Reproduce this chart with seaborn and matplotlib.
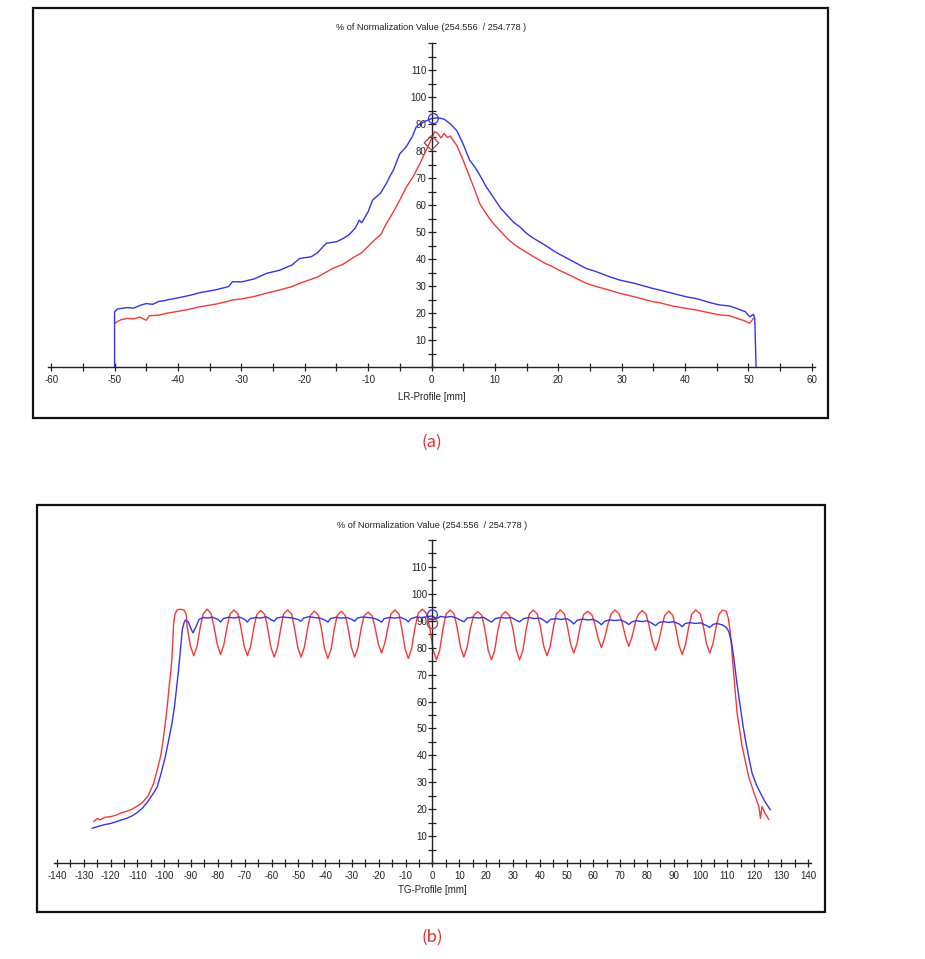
import matplotlib
matplotlib.use("Agg")
import matplotlib.pyplot as plt
import seaborn as sns
import pandas as pd
from matplotlib.patches import Rectangle
from matplotlib.ticker import MultipleLocator

# ---------------- data: panel (a) LR-profile ----------------
lr_blue_x = [-50, -50, -49.5, -48, -47, -46, -45, -44, -43, -42, -41.8, -40, -38, -36.6, -34, -32, -31.4,
             -30, -28, -26, -24, -22, -20.8, -19, -18, -16.6, -15, -14, -13, -12, -11.4, -11, -10, -9.3,
             -8, -7, -6.6, -6, -5, -4, -3, -2.4, -2, -1, 0, 1, 2, 3, 3.4, 4, 5, 6, 7, 8, 8.6, 9, 10, 11,
             11.2, 12, 13, 13.9, 15, 16, 18, 19.1, 20, 22, 24.4, 26, 28, 29.7, 32, 34.9, 36, 38, 40.2,
             42, 44, 45.4, 47, 48, 49.5, 50.2, 50.8, 51, 51.2]
lr_blue_y = [0, 20.5, 21.5, 22.0, 21.8, 22.8, 23.5, 23.2, 24.3, 24.6, 24.8, 25.6, 26.6, 27.5, 28.6, 29.8, 31.6,
             31.5, 32.6, 34.7, 35.8, 37.8, 40.2, 40.8, 42.3, 45.8, 46.4, 47.5, 49.0, 51.5, 54.4, 53.4, 57.5, 61.8,
             64.5, 68.5, 70.5, 73.0, 79.0, 81.5, 85.5, 89.0, 89.8, 91.0, 92.0, 92.3, 91.8, 90.0, 89.0, 87.5, 82.5,
             76.7, 73.5, 69.5, 66.8, 65.5, 62.0, 58.5, 58.1, 56.0, 53.5, 52.0, 49.5, 47.8, 45.0, 43.3, 42.0, 39.5,
             36.5, 35.3, 33.5, 32.2, 31.0, 29.1, 28.5, 27.3, 26.0, 25.2, 23.8, 23.0, 22.6, 21.8, 20.5, 18.6, 19.5,
             18.0, 0]

lr_red_x = [-50, -49, -48, -47, -46, -45, -44.5, -43, -41.8, -40, -38, -36.6, -34, -32, -31.4, -30, -28,
            -26.1, -24, -22, -20.8, -18, -15.6, -14, -13, -12, -11, -10.3, -9, -8, -7.1, -6, -5, -4, -2.9,
            -2, -1.1, 0, 0.5, 1, 1.5, 2, 2.5, 3, 3.4, 4, 5, 6, 7, 7.6, 8, 9, 10, 11.2, 12, 13, 13.9, 16,
            18, 19.1, 20, 22, 24.4, 26, 28, 29.7, 32, 34.9, 36, 38, 40.2, 42, 44, 45.4, 47, 48, 49.5, 50.2,
            50.8]
lr_red_y = [16.2, 17.5, 18.0, 17.8, 18.5, 17.3, 19.0, 19.2, 19.9, 20.6, 21.5, 22.3, 23.3, 24.4, 24.8, 25.2, 26.1,
            27.3, 28.5, 29.8, 31.0, 33.3, 36.5, 38.0, 39.5, 41.0, 42.3, 44.0, 47.0, 49.0, 53.2, 57.5, 61.8, 66.5,
            70.5, 74.5, 79.0, 84.5, 87.2, 86.5, 84.8, 86.5, 85.0, 85.5, 84.0, 82.0, 76.5, 70.5, 64.5, 60.6, 59.0,
            55.5, 52.5, 49.5, 47.5, 45.5, 44.0, 41.0, 38.3, 37.2, 36.0, 33.8, 31.0, 29.8, 28.5, 27.3, 26.0, 24.2,
            23.8, 22.6, 21.7, 21.0, 20.0, 19.3, 19.0, 18.2, 17.0, 16.2, 18.0]

# ---------------- data: panel (b) TG-profile ----------------
tg_red_x = [-126.3, -125, -124, -122, -120, -118, -116, -114, -112, -110, -108, -106, -104, -102.5, -101.4,
            -100.5, -99.6, -98.9, -98.3, -97.6, -97.1, -96.8, -96.5, -96, -95.2, -94, -92.7, -91.8,
            -91.5, -90.2, -89, -87.8, -86.5, -85.5, -84,
            -82.5, -81.5, -80.2, -79, -77.8, -76.5, -75.5, -74,
            -72.5, -71.5, -70.2, -69, -67.8, -66.5, -65.5, -64,
            -62.5, -61.5, -60.2, -59, -57.8, -56.5, -55.5, -54,
            -52.5, -51.5, -50.2, -49, -47.8, -46.5, -45.5, -44,
            -42.5, -41.5, -40.2, -39, -37.8, -36.5, -35.5, -34,
            -32.5, -31.5, -30.2, -29, -27.8, -26.5, -25.5, -24,
            -22.5, -21.5, -20.2, -19, -17.8, -16.5, -15.5, -14,
            -12.5, -11.5, -10.2, -9, -7.8, -6.5, -5.3, -3.8,
            -2.3, -1, 0.3, 1.5, 2.7, 4, 5.1, 6.6,
            8.1, 9.2, 10.5, 11.7, 12.9, 14.2, 15.4, 16.9,
            18.4, 19.5, 20.8, 22, 23.2, 24.5, 25.7, 27.2,
            28.7, 30, 31.3, 32.5, 33.7, 35, 36.1, 37.6,
            39.1, 40.2, 41.5, 42.7, 43.9, 45.2, 46.2, 47.7,
            49.2, 50.2, 51.5, 52.7, 53.9, 55.2, 56.4, 57.9,
            59.4, 60.5, 61.8, 63, 64.2, 65.5, 66.6, 68.1,
            69.6, 70.7, 72, 73.2, 74.4, 75.7, 76.7, 78.2,
            79.7, 80.7, 82, 83.2, 84.4, 85.7, 86.6, 88.1,
            89.6, 90.6, 91.9, 93.1, 94.3, 95.6, 96.7, 98.2,
            99.9, 100.9, 102.2, 103.4, 104.6, 105.9, 106.9, 108.2,
            109.5, 110.3, 111.1, 112.3, 113.6, 115.5, 117.9, 120.4, 121.7, 122.3, 122.9, 124, 125.4]
tg_red_y = [15.4, 16.5, 16.0, 17.0, 17.2, 17.8, 18.6, 19.2, 20.0, 21.2, 22.6, 25.0, 29.5, 35.0, 39.5,
            45.0, 52.0, 58.0, 64.3, 71.0, 76.7, 83.0, 89.0, 92.5, 94.0, 94.3, 94.0, 92.5,
            88.0, 80.5, 77.0, 80.5, 88.0, 92.5, 94.3,
            92.5, 88.0, 81.0, 77.5, 81.0, 88.0, 92.5, 94.0,
            92.5, 88.0, 80.5, 77.0, 80.5, 88.0, 92.3, 93.8,
            92.3, 87.5, 80.0, 76.5, 80.0, 87.5, 92.5, 94.0,
            92.5, 87.5, 80.0, 76.5, 80.0, 87.5, 92.0, 93.6,
            92.0, 87.5, 79.5, 76.0, 79.5, 87.5, 92.0, 93.5,
            92.0, 87.5, 80.0, 76.5, 80.0, 87.5, 91.8, 93.2,
            91.8, 88.0, 81.5, 78.0, 81.5, 88.0, 92.5, 94.0,
            92.5, 87.5, 79.5, 76.0, 79.5, 87.5, 92.8, 94.3,
            92.8, 87.5, 79.0, 75.5, 79.0, 87.5, 92.5, 94.0,
            92.5, 87.5, 80.0, 76.5, 80.0, 87.5, 92.0, 93.4,
            92.0, 87.0, 79.0, 75.5, 79.0, 87.0, 92.0, 93.4,
            92.0, 87.0, 79.0, 75.5, 79.0, 87.0, 92.5, 94.0,
            92.5, 88.0, 80.5, 77.0, 80.5, 88.0, 92.5, 94.0,
            92.5, 88.5, 81.5, 78.0, 81.5, 88.5, 92.3, 93.5,
            92.3, 89.0, 83.5, 80.0, 83.5, 89.0, 92.5, 94.0,
            92.5, 89.5, 84.0, 80.5, 84.0, 89.5, 92.3, 93.8,
            92.3, 88.5, 82.5, 79.0, 82.5, 88.5, 92.0, 93.6,
            92.0, 88.0, 81.0, 77.5, 81.0, 88.0, 92.5, 94.0,
            92.5, 88.5, 81.5, 78.0, 81.5, 88.5, 92.5, 94.0,
            93.5, 91.0, 85.4, 70.5, 55.6, 43.2, 32.0, 24.6, 21.0, 16.6, 21.0, 18.5, 16.2]

tg_blue_x = [-126.9, -124, -122, -120, -118, -116, -114, -112, -110, -108, -106, -104, -102.6, -101, -99.6,
             -98.3, -97.1, -96.2, -95.5, -94.8, -94.2, -93.7, -93.3, -92.7, -92.1, -91, -90, -89.3, -88.3,
             -87, -85.5, -84, -82, -80, -79, -78, -76, -74, -72, -70, -69, -68, -66, -64, -62, -60, -59,
             -58, -56, -54, -52, -50, -49, -48, -46, -44, -42, -40, -39, -38, -36, -34, -32, -30, -29,
             -28, -26, -24, -22, -20, -19, -18, -16, -14, -12, -10, -9, -8, -6, -4, -2, 0, 1.5, 3, 5, 7,
             9, 10.5, 11.7, 13, 15, 17, 19, 20.5, 22, 23.5, 25.5, 27.5, 29.5, 31, 32.5, 34, 36, 38, 40,
             41.5, 42.7, 44, 46, 48, 50, 51.5, 52.7, 54, 56, 58, 60, 61.8, 63, 64.2, 66, 68, 70, 72, 73.2,
             74.4, 76, 78, 80, 82, 83.2, 84.4, 86, 88, 90, 92, 93.1, 94.3, 96, 98, 100, 102, 103.4, 104.6,
             106, 108, 109.6, 110.5, 111.5, 112.3, 113.5, 114.8, 115.8, 116.7, 118, 119.2, 120.8, 122.3,
             124, 126]
tg_blue_y = [12.9, 13.8, 14.3, 14.7, 15.3, 16.0, 16.6, 17.5, 18.8, 20.5, 23.0, 26.0, 28.3, 34.0, 39.5,
             46.0, 52.0, 58.0, 64.3, 70.5, 76.7, 82.0, 86.6, 89.0, 90.3, 89.5, 87.0, 85.5, 87.5,
             90.5, 91.2, 91.0, 91.3, 90.5, 89.5, 90.8, 91.3, 91.0, 91.4, 90.5, 89.5, 90.8, 91.2, 91.0, 91.5, 90.3, 89.8,
             91.0, 91.4, 91.2, 91.0, 90.4, 89.8, 91.0, 91.5, 91.2, 91.0, 90.2, 89.5, 90.8, 91.3, 91.0, 91.2, 90.5, 89.8,
             91.0, 91.4, 91.2, 91.0, 90.2, 89.5, 90.8, 91.2, 91.0, 91.3, 90.5, 89.6, 90.8, 91.4, 91.2, 91.5, 91.8, 90.8,
             91.6, 91.3, 91.6, 91.0, 90.2, 89.6, 91.0, 91.3, 91.0, 91.3, 90.4, 89.5, 90.8, 91.2, 91.0, 91.2, 90.3, 89.6,
             90.8, 91.2, 90.8, 91.0, 90.2, 89.2, 90.5, 90.8, 90.5, 90.8, 90.0, 88.8, 90.2, 90.6, 90.3, 90.5, 89.6, 88.5,
             89.8, 90.3, 90.1, 90.3, 89.5, 88.6, 89.6, 90.0, 89.7, 90.0, 89.0, 88.2, 89.3, 89.7, 89.4, 89.6, 88.8, 87.8,
             89.0, 89.3, 89.0, 89.2, 88.3, 87.5, 88.6, 89.0, 88.5, 87.5, 86.0, 82.0, 76.7, 67.0, 58.0, 51.0, 45.7, 39.0,
             33.3, 29.0, 26.0, 22.8, 19.7]

# reference markers at the normalization point
lr_marker_circle = (0.3, 92.0)
lr_marker_diamond = (0.0, 83.0)
tg_marker_circle = (0.0, 92.2)
tg_marker_diamond = (0.0, 89.0)

lr_ticks = list(range(-60, 61, 10))
tg_ticks = list(range(-140, 141, 10))
y_ticks = list(range(10, 111, 10))
title_text = "% of Normalization Value (254.556  / 254.778 )"

BLUE = "#3535e6"
RED = "#f23a3a"
MARK = "#9a4a4a"

sns.set_style("white")
plt.rcParams["font.family"] = ["Liberation Sans", "DejaVu Sans"]
plt.rcParams["axes.unicode_minus"] = False

W, H = 925, 959
fig = plt.figure(figsize=(W / 100, H / 100), dpi=100)


def fx(px):
    return px / W


def fy(py):
    return 1 - py / H


def make_axes(left_px, axis_px, top_px, width_px, xlim, xticks, xlabel, label_gap):
    ax = fig.add_axes([fx(left_px), fy(axis_px), width_px / W, (axis_px - top_px) / H])
    ax.set_xlim(*xlim)
    ax.set_ylim(0, 120)
    ax.patch.set_alpha(0)
    for s in ("top", "right"):
        ax.spines[s].set_visible(False)
    ax.spines["left"].set_position(("data", 0))
    for s in ("left", "bottom"):
        ax.spines[s].set_color("#222222")
        ax.spines[s].set_linewidth(1.0)
    ax.set_xticks(xticks)
    ax.set_xticklabels([str(v) for v in xticks])
    ax.xaxis.set_minor_locator(MultipleLocator(5))
    ax.set_yticks(y_ticks)
    ax.set_yticklabels([str(v) for v in y_ticks])
    ax.yaxis.set_minor_locator(MultipleLocator(5))
    ax.tick_params(which="both", direction="inout", length=6, width=0.9, color="#222222",
                   labelsize=7, labelcolor="#222222", bottom=True, left=True, top=False, right=False)
    ax.tick_params(axis="x", which="both", pad=3.0)
    ax.tick_params(axis="y", which="both", pad=0.8)
    ax.set_xlabel(xlabel, fontsize=7, color="#222222")
    ax.xaxis.label.set_va("center")
    frac0 = (0 - xlim[0]) / (xlim[1] - xlim[0])
    ax.xaxis.set_label_coords(frac0, -label_gap / (axis_px - top_px))
    ax.set_title(title_text, fontsize=6.6, color="#222222", pad=9)
    return ax


# ---- panel (a)
axA = make_axes(48, 367, 43, 767, (-60.5, 60.5), lr_ticks, "LR-Profile [mm]", 30)
dfa_b = pd.DataFrame({"x": lr_blue_x, "y": lr_blue_y})
dfa_r = pd.DataFrame({"x": lr_red_x, "y": lr_red_y})
sns.lineplot(data=dfa_r, x="x", y="y", sort=False, estimator=None, color=RED, lw=1.0, ax=axA)
sns.lineplot(data=dfa_b, x="x", y="y", sort=False, estimator=None, color=BLUE, lw=1.0, ax=axA)
axA.scatter([lr_marker_circle[0]], [lr_marker_circle[1]], s=50, marker="o", facecolors="none",
            edgecolors=BLUE, linewidths=0.9, zorder=5)
axA.scatter([lr_marker_diamond[0]], [lr_marker_diamond[1]], s=55, marker="D", facecolors="none",
            edgecolors=MARK, linewidths=0.9, zorder=5)
axA.set_ylabel("")

# ---- panel (b)
axB = make_axes(54.3, 863, 540, 756.3, (-141, 141), tg_ticks, "TG-Profile [mm]", 27)
dfb_b = pd.DataFrame({"x": tg_blue_x, "y": tg_blue_y})
dfb_r = pd.DataFrame({"x": tg_red_x, "y": tg_red_y})
sns.lineplot(data=dfb_r, x="x", y="y", sort=False, estimator=None, color=RED, lw=1.0, ax=axB)
sns.lineplot(data=dfb_b, x="x", y="y", sort=False, estimator=None, color=BLUE, lw=1.0, ax=axB)
axB.scatter([tg_marker_circle[0]], [tg_marker_circle[1]], s=50, marker="o", facecolors="none",
            edgecolors=BLUE, linewidths=0.9, zorder=5)
axB.scatter([tg_marker_diamond[0]], [tg_marker_diamond[1]], s=55, marker="o", facecolors="none",
            edgecolors=MARK, linewidths=0.9, zorder=5)
axB.set_ylabel("")

# frames around each panel
fig.patches.append(Rectangle((fx(33), fy(418)), 795 / W, 410 / H, transform=fig.transFigure,
                             fill=False, edgecolor="#111111", linewidth=1.6))
fig.patches.append(Rectangle((fx(37), fy(912)), 788 / W, 407 / H, transform=fig.transFigure,
                             fill=False, edgecolor="#111111", linewidth=1.6))

# captions
fig.text(fx(432), fy(442), "(a)", color="#e8262e", fontsize=12, ha="center", va="center",
         family=["Noto Sans CJK KR", "DejaVu Sans"])
fig.text(fx(432), fy(937), "(b)", color="#e8262e", fontsize=12, ha="center", va="center",
         family=["Noto Sans CJK KR", "DejaVu Sans"])

fig.savefig("out.png", dpi=100)
